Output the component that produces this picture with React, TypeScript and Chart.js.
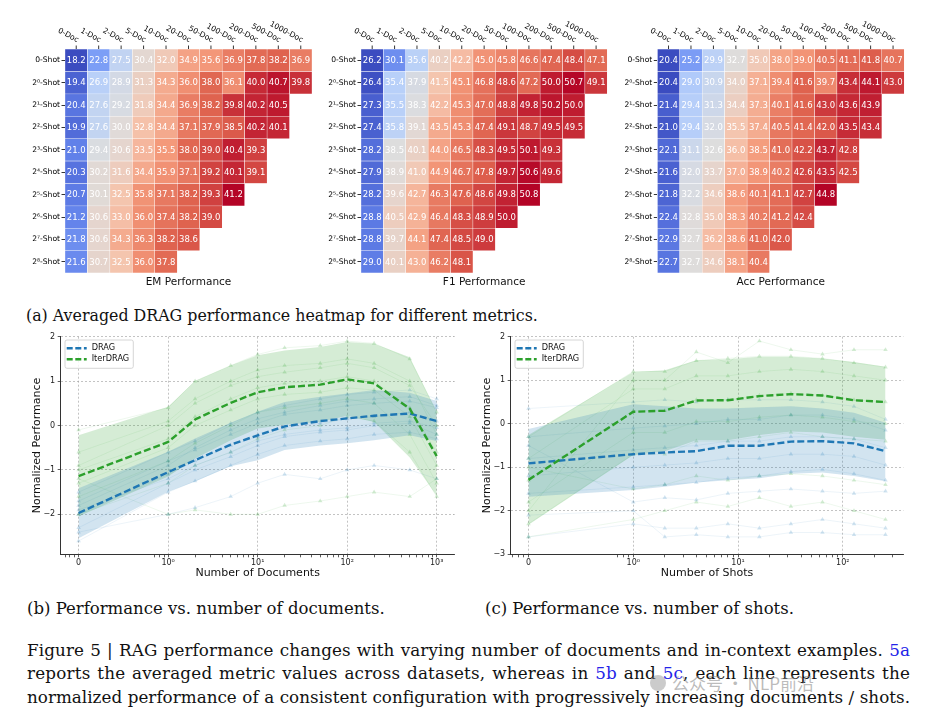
import React, { useEffect, useLayoutEffect, useRef } from "react";
import { Chart, registerables } from "chart.js";
Chart.register(...registerables);

const FONT = "'DejaVu Sans', sans-serif";
const SERIF = "'DejaVu Serif', serif";

// ---------- Heatmap data ----------
const docLabels = ["0-Doc", "1-Doc", "2-Doc", "5-Doc", "10-Doc", "20-Doc", "50-Doc", "100-Doc", "200-Doc", "500-Doc", "1000-Doc"];
const shotLabels = ["0-Shot", "2⁰-Shot", "2¹-Shot", "2²-Shot", "2³-Shot", "2⁴-Shot", "2⁵-Shot", "2⁶-Shot", "2⁷-Shot", "2⁸-Shot"];

const emValues = [
  [18.2, 22.8, 27.5, 30.4, 32.0, 34.9, 35.6, 36.9, 37.8, 38.2, 36.9],
  [19.4, 26.9, 28.9, 31.3, 34.3, 36.0, 38.0, 36.1, 40.0, 40.7, 39.8],
  [20.4, 27.6, 29.2, 31.8, 34.4, 36.9, 38.2, 39.8, 40.2, 40.5],
  [19.9, 27.6, 30.0, 32.8, 34.4, 37.1, 37.9, 38.5, 40.2, 40.1],
  [21.0, 29.4, 30.6, 33.5, 35.5, 38.0, 39.0, 40.4, 39.3],
  [20.3, 30.2, 31.6, 34.4, 35.9, 37.1, 39.2, 40.1, 39.1],
  [20.7, 30.1, 32.5, 35.8, 37.1, 38.2, 39.3, 41.2],
  [21.2, 30.6, 33.0, 36.0, 37.4, 38.2, 39.0],
  [21.8, 30.6, 34.3, 36.3, 38.2, 38.6],
  [21.6, 30.7, 32.5, 36.0, 37.8],
];

const f1Values = [
  [26.2, 30.1, 35.6, 40.2, 42.2, 45.0, 45.8, 46.6, 47.4, 48.4, 47.1],
  [26.4, 35.4, 37.9, 41.5, 45.1, 46.8, 48.6, 47.2, 50.0, 50.7, 49.1],
  [27.3, 35.5, 38.3, 42.2, 45.3, 47.0, 48.8, 49.8, 50.2, 50.0],
  [27.4, 35.8, 39.1, 43.5, 45.3, 47.4, 49.1, 48.7, 49.5, 49.5],
  [28.2, 38.5, 40.1, 44.0, 46.5, 48.3, 49.5, 50.1, 49.3],
  [27.9, 38.9, 41.0, 44.9, 46.7, 47.8, 49.7, 50.6, 49.6],
  [28.2, 39.6, 42.7, 46.3, 47.6, 48.6, 49.8, 50.8],
  [28.8, 40.5, 42.9, 46.4, 48.3, 48.9, 50.0],
  [28.8, 39.7, 44.1, 47.4, 48.5, 49.0],
  [29.0, 40.1, 43.0, 46.2, 48.1],
];

const accValues = [
  [20.4, 25.2, 29.9, 32.7, 35.0, 38.0, 39.0, 40.5, 41.1, 41.8, 40.7],
  [20.4, 29.0, 30.9, 34.0, 37.1, 39.4, 41.6, 39.7, 43.4, 44.1, 43.0],
  [21.4, 29.4, 31.3, 34.4, 37.3, 40.1, 41.6, 43.0, 43.6, 43.9],
  [21.0, 29.4, 32.0, 35.5, 37.4, 40.5, 41.4, 42.0, 43.5, 43.4],
  [22.1, 31.1, 32.6, 36.0, 38.5, 41.0, 42.2, 43.7, 42.8],
  [21.6, 32.0, 33.7, 37.0, 38.9, 40.2, 42.6, 43.5, 42.5],
  [21.8, 32.2, 34.6, 38.6, 40.1, 41.1, 42.7, 44.8],
  [22.4, 32.8, 35.0, 38.3, 40.2, 41.2, 42.4],
  [22.9, 32.7, 36.2, 38.6, 41.0, 42.0],
  [22.7, 32.7, 34.6, 38.1, 40.4],
];

// ---------- Line chart data ----------
const docCounts = [0, 1, 2, 5, 10, 20, 50, 100, 200, 500, 1000];
const shotCounts = [0, 1, 2, 4, 8, 16, 32, 64, 128, 256];

const docDragMean = [-1.97, -1.05, -0.78, -0.43, -0.22, -0.02, 0.1, 0.16, 0.22, 0.27, 0.1];
const docDragUpper = [-1.41, -0.59, -0.29, 0.06, 0.31, 0.53, 0.65, 0.72, 0.8, 0.74, 0.55];
const docDragLower = [-2.54, -1.49, -1.26, -0.92, -0.78, -0.55, -0.45, -0.4, -0.33, -0.22, -0.35];
const docIterMean = [-1.14, -0.37, 0.135, 0.51, 0.75, 0.86, 0.92, 1.04, 0.95, 0.38, -0.69];
const docIterUpper = [-0.22, 0.42, 1.0, 1.35, 1.58, 1.69, 1.77, 1.88, 1.84, 1.54, 0.31];
const docIterLower = [-2.05, -1.15, -0.74, -0.33, -0.07, 0.02, 0.08, 0.22, 0.08, -0.72, -1.58];

const docDragRuns = [
  [-1.5, -0.6, -0.35, 0.05, 0.3, 0.45, 0.6, 0.7, 0.75, 0.8, 0.6],
  [-1.7, -0.8, -0.55, -0.2, 0.05, 0.25, 0.35, 0.45, 0.5, 0.55, 0.4],
  [-2.0, -1.1, -0.8, -0.45, -0.25, -0.05, 0.05, 0.15, 0.2, 0.3, 0.1],
  [-2.3, -1.3, -1.0, -0.7, -0.45, -0.25, -0.15, -0.1, 0.0, 0.05, -0.2],
  [-2.6, -1.5, -1.25, -0.9, -0.65, -0.45, -0.35, -0.3, -0.2, -0.15, -0.3],
  [-1.9, -1.2, -0.9, -0.6, -0.35, -0.2, -0.1, -0.05, 0.05, 0.1, -0.05],
  [-2.4, -2.0, -1.85, -1.6, -1.3, -1.1, -1.2, -1.0, -0.9, -1.0, -1.2],
  [-1.8, -0.9, -0.5, -0.1, 0.15, 0.3, 0.45, 0.55, 0.6, 0.65, 0.45],
];
const docIterRuns = [
  [-0.1, 0.4, 1.0, 1.35, 1.6, 1.75, 1.8, 1.9, 1.85, 1.5, 0.3],
  [-0.6, 0.1, 0.6, 1.0, 1.25, 1.35, 1.4, 1.5, 1.4, 1.0, -0.2],
  [-1.0, -0.3, 0.2, 0.6, 0.85, 0.95, 1.0, 1.1, 1.0, 0.4, -0.6],
  [-1.3, -0.5, 0.0, 0.35, 0.6, 0.7, 0.75, 0.85, 0.8, 0.2, -0.9],
  [-1.6, -0.8, -0.4, 0.0, 0.3, 0.4, 0.5, 0.6, 0.5, -0.2, -1.3],
  [-2.0, -1.3, -0.9, -0.6, -0.3, -0.1, 0.0, 0.2, 0.1, -0.6, -1.6],
  [-0.9, 0.0, 0.5, 0.9, 1.1, 1.2, 1.3, 1.4, 1.3, 0.9, 0.0],
  [-1.2, -2.0, -1.9, -2.0, -2.0, -1.8, -1.7, -1.6, -1.5, -1.6, -1.2],
];

const shotDragMean = [-0.91, -0.7, -0.66, -0.63, -0.505, -0.505, -0.41, -0.4, -0.45, -0.63];
const shotDragUpper = [-0.12, 0.45, 0.4, 0.35, 0.35, 0.38, 0.4, 0.35, 0.25, 0.02];
const shotDragLower = [-1.68, -1.52, -1.45, -1.35, -1.3, -1.25, -1.15, -1.12, -1.2, -1.32];
const shotIterMean = [-1.29, 0.275, 0.3, 0.535, 0.54, 0.635, 0.68, 0.65, 0.54, 0.5];
const shotIterUpper = [-0.26, 1.19, 1.23, 1.46, 1.48, 1.54, 1.54, 1.5, 1.42, 1.31];
const shotIterLower = [-2.32, -0.72, -0.63, -0.38, -0.38, -0.26, -0.18, -0.2, -0.3, -0.37];

const shotDragRuns = [
  [0.35, 0.5, 0.55, 0.5, 0.55, 0.55, 0.55, 0.5, 0.4, 0.1],
  [-0.3, -0.1, -0.05, 0.0, 0.1, 0.1, 0.2, 0.2, 0.1, -0.15],
  [-0.8, -0.6, -0.55, -0.5, -0.4, -0.4, -0.3, -0.3, -0.35, -0.55],
  [-1.2, -1.0, -0.95, -0.9, -0.8, -0.8, -0.7, -0.7, -0.75, -0.95],
  [-1.6, -1.45, -1.4, -1.35, -1.25, -1.2, -1.1, -1.05, -1.15, -1.3],
  [-2.6, -2.3, -2.4, -2.4, -2.3, -2.4, -2.3, -2.2, -2.3, -2.4],
  [-2.1, -2.0, -2.6, -2.55, -2.6, -2.6, -2.5, -2.5, -2.55, -2.55],
  [-0.5, -1.8, -1.7, -1.75, -1.6, -1.55, -1.5, -1.55, -1.6, -1.55],
];
const shotIterRuns = [
  [-0.3, 1.2, 1.2, 1.45, 1.5, 1.55, 1.55, 1.5, 1.4, 1.3],
  [-0.8, 0.8, 0.8, 1.1, 1.1, 1.2, 1.25, 1.2, 1.1, 1.0],
  [-1.3, 0.3, 0.3, 0.55, 0.55, 0.65, 0.7, 0.65, 0.55, 0.5],
  [-1.8, -0.2, -0.2, 0.05, 0.05, 0.15, 0.2, 0.15, 0.05, 0.0],
  [-2.3, -0.7, -0.7, -0.4, -0.4, -0.3, -0.2, -0.3, -0.35, -0.4],
  [-2.0, 1.0, 1.0, 1.65, 1.4, 1.9, 1.7, 1.6, 1.7, 1.7],
  [-1.0, -1.5, -1.4, -1.2, -1.3, -1.2, -1.15, -1.2, -1.3, -1.4],
  [-2.6, -2.2, -2.0, -1.8, -1.9, -1.7, -1.9, -1.8, -2.0, -2.2],
];

const xMajorLabels = ["0", "10⁰", "10¹", "10²", "10³"];
const docYTicks = [-2, -1, 0, 1, 2];
const shotYTicks = [-3, -2, -1, 0, 1, 2];

// ---------- helpers ----------
const CW = [
  [59, 76, 192], [98, 130, 234], [141, 176, 254], [184, 208, 249], [221, 221, 221],
  [245, 196, 173], [244, 154, 123], [222, 96, 77], [180, 4, 38],
];
function coolwarm(t: number) {
  const tt = Math.max(0, Math.min(1, t)) * (CW.length - 1);
  const i = Math.min(CW.length - 2, Math.floor(tt));
  const f = tt - i;
  const c = CW[i].map((v, k) => Math.round(v + (CW[i + 1][k] - v) * f));
  return `rgb(${c[0]},${c[1]},${c[2]})`;
}
const symlog = (v: number) => (v <= 1 ? v : 1 + Math.log10(v));
function minorTicks(maxT: number) {
  const out = [-0.15, -0.1, -0.046, 0.845, 0.903, 0.954];
  for (let k = 0; k < 5; k++) for (let m = 2; m <= 9; m++) {
    const t = 1 + k + Math.log10(m);
    if (t < maxT) out.push(t);
  }
  return out;
}
const minus = (v: number) => (v < 0 ? "\u2212" + Math.abs(v) : String(v));

// ---------- Heatmap ----------
function Heatmap({ values, title, left, axisWidth, padRight }: any) {
  const ref = useRef<HTMLCanvasElement>(null);
  useEffect(() => {
    const flat = values.flat();
    const vmin = Math.min(...flat);
    const vmax = Math.max(...flat);
    const datasets = shotLabels.map((s, r) => ({
      label: s,
      data: docLabels.map((_, c) => (c < values[r].length ? [r, r + 1] : null)),
      backgroundColor: (ctx: any) => {
        const v = values[ctx.datasetIndex]?.[ctx.dataIndex];
        return v == null ? "rgba(0,0,0,0)" : coolwarm((v - vmin) / (vmax - vmin));
      },
      borderColor: "#ffffff",
      borderWidth: 0.5,
      borderSkipped: false,
      barPercentage: 1,
      categoryPercentage: 1,
      grouped: false,
    }));
    const plugin = {
      id: "hmDecor",
      afterDatasetsDraw(chart: any) {
        const { ctx, chartArea: a } = chart;
        ctx.save();
        ctx.font = `8.5px ${FONT}`;
        ctx.fillStyle = "#ffffff";
        ctx.textAlign = "center";
        ctx.textBaseline = "middle";
        values.forEach((row: number[], r: number) => {
          const meta = chart.getDatasetMeta(r);
          row.forEach((v, c) => {
            const el = meta.data[c];
            if (!el) return;
            const p = el.getProps(["x", "y", "base"], true);
            ctx.fillText(v.toFixed(1), p.x, (p.y + p.base) / 2 + 0.5);
          });
        });
        const xs = chart.scales.x;
        ctx.strokeStyle = "#000";
        ctx.fillStyle = "#000";
        ctx.lineWidth = 0.8;
        ctx.font = `7.6px ${FONT}`;
        docLabels.forEach((lab, i) => {
          const px = xs.getPixelForValue(i);
          ctx.beginPath();
          ctx.moveTo(px, a.top);
          ctx.lineTo(px, a.top - 3.5);
          ctx.stroke();
          ctx.save();
          ctx.translate(px, a.top - 5);
          ctx.rotate((28 * Math.PI) / 180);
          ctx.textAlign = "right";
          ctx.textBaseline = "bottom";
          ctx.fillText(lab, 0, 0);
          ctx.restore();
        });
        ctx.font = `10.5px ${FONT}`;
        ctx.textAlign = "center";
        ctx.textBaseline = "middle";
        ctx.fillStyle = "#111";
        ctx.fillText(title, (a.left + a.right) / 2, 282);
        ctx.restore();
      },
    };
    const chart = new Chart(ref.current as HTMLCanvasElement, {
      type: "bar",
      data: { labels: docLabels, datasets: datasets as any },
      options: {
        animation: false,
        responsive: false,
        devicePixelRatio: 1,
        events: [],
        layout: { padding: { left: 0, top: 49, right: padRight, bottom: 27 } },
        plugins: { legend: { display: false }, tooltip: { enabled: false } },
        scales: {
          x: { type: "category", display: false, offset: true },
          y: {
            type: "linear",
            min: 0,
            max: 10,
            reverse: true,
            afterBuildTicks: (s: any) => {
              s.ticks = shotLabels.map((_, i) => ({ value: i + 0.5 }));
            },
            afterFit: (s: any) => {
              s.width = axisWidth;
            },
            ticks: {
              autoSkip: false,
              padding: 1.5,
              color: "#000",
              font: { family: FONT, size: 7.6 },
              callback: (_v: any, i: number) => shotLabels[i],
            },
            grid: { drawOnChartArea: false, drawTicks: true, tickLength: 3.5, tickColor: "#000", tickWidth: 0.8, color: "#000" },
            border: { display: false },
          },
        },
      } as any,
      plugins: [plugin],
    });
    return () => chart.destroy();
  }, []);
  return <canvas ref={ref} width={320} height={300} style={{ position: "absolute", left, top: 0, width: 320, height: 300 }} />;
}

// ---------- Line chart ----------
const BLUE = "#1f77b4";
const GREEN = "#2ca02c";

function LineChart(props: any) {
  const ref = useRef<HTMLCanvasElement>(null);
  useEffect(() => {
    const { counts, xMin, xMax, yMin, yMax, yTicks, dm, du, dl, im, iu, il, dRuns, iRuns, xTitle, padRight } = props;
    const majors = [0, 1, 2, 3, 4].filter((v) => v <= xMax);
    const minors = minorTicks(xMax);
    const pts = (arr: number[]) => arr.map((v, i) => ({ x: symlog(counts[i]), y: v }));
    const run = (arr: number[], rgb: string) => ({
      data: pts(arr),
      borderColor: `rgba(${rgb},0.10)`,
      borderWidth: 0.8,
      pointStyle: "triangle",
      pointRadius: 2.6,
      pointBackgroundColor: `rgba(${rgb},0.2)`,
      pointBorderColor: `rgba(${rgb},0.2)`,
      pointBorderWidth: 0,
      fill: false,
      order: 10,
    });
    const band = (arr: number[], fill: any, bg: string) => ({
      data: pts(arr),
      borderColor: "rgba(0,0,0,0)",
      borderWidth: 0,
      pointRadius: 0,
      fill,
      backgroundColor: bg,
      order: 5,
    });
    const datasets = [
      { label: "DRAG", data: pts(dm), borderColor: BLUE, borderWidth: 2.4, borderDash: [7, 3], pointRadius: 0, fill: false, order: 1 },
      { label: "IterDRAG", data: pts(im), borderColor: GREEN, borderWidth: 2.4, borderDash: [7, 3], pointRadius: 0, fill: false, order: 0 },
      band(du, "+1", "rgba(31,119,180,0.2)"),
      band(dl, false, "rgba(0,0,0,0)"),
      band(iu, "+1", "rgba(44,160,44,0.2)"),
      band(il, false, "rgba(0,0,0,0)"),
      ...dRuns.map((r: number[]) => run(r, "31,119,180")),
      ...iRuns.map((r: number[]) => run(r, "44,160,44")),
    ];
    const plugin = {
      id: "lnDecor",
      afterDraw(chart: any) {
        const { ctx, chartArea: a } = chart;
        ctx.save();
        ctx.fillStyle = "#111";
        ctx.font = `11px ${FONT}`;
        ctx.textAlign = "center";
        ctx.textBaseline = "middle";
        ctx.fillText(xTitle, (a.left + a.right) / 2, 248);
        ctx.translate(16.7, (a.top + a.bottom) / 2);
        ctx.rotate(-Math.PI / 2);
        ctx.fillText("Normalized Performance", 0, 0);
        ctx.restore();
        // legend
        ctx.save();
        const bx = a.left + 4.3, by = a.top + 3.3, bw = 68.3, bh = 28.3;
        ctx.beginPath();
        (ctx as any).roundRect(bx, by, bw, bh, 2);
        ctx.fillStyle = "rgba(255,255,255,0.8)";
        ctx.fill();
        ctx.strokeStyle = "#cccccc";
        ctx.lineWidth = 0.8;
        ctx.stroke();
        const items = [["DRAG", BLUE], ["IterDRAG", GREEN]];
        items.forEach(([lab, col], k) => {
          const yy = by + 8.3 + k * 11;
          ctx.beginPath();
          ctx.setLineDash([6, 2.6]);
          ctx.strokeStyle = col;
          ctx.lineWidth = 2.4;
          ctx.moveTo(bx + 1.7, yy);
          ctx.lineTo(bx + 21.7, yy);
          ctx.stroke();
          ctx.setLineDash([]);
          ctx.fillStyle = "#111";
          ctx.font = `8.2px ${FONT}`;
          ctx.textAlign = "left";
          ctx.textBaseline = "middle";
          ctx.fillText(lab, bx + 26.7, yy);
        });
        ctx.restore();
      },
    };
    const chart = new Chart(ref.current as HTMLCanvasElement, {
      type: "line",
      data: { datasets: datasets as any },
      options: {
        animation: false,
        responsive: false,
        devicePixelRatio: 1,
        events: [],
        layout: { padding: { left: 0, top: 11.7, right: padRight, bottom: 0 } },
        plugins: { legend: { display: false }, tooltip: { enabled: false } },
        elements: { line: { tension: 0 } },
        scales: {
          x: {
            type: "linear",
            min: xMin,
            max: xMax,
            afterBuildTicks: (s: any) => {
              s.ticks = [...majors, ...minors].sort((p, q) => p - q).map((v) => ({ value: v }));
            },
            afterFit: (s: any) => {
              s.height = 35.7;
            },
            ticks: {
              autoSkip: false,
              maxRotation: 0,
              minRotation: 0,
              padding: 1,
              color: "#222",
              font: { family: FONT, size: 8 },
              callback: (v: number) => {
                const k = majors.indexOf(v);
                return k >= 0 ? xMajorLabels[k] : "";
              },
            },
            grid: {
              color: (c: any) => (c.tick && majors.includes(c.tick.value) ? "rgba(160,160,160,0.8)" : "rgba(0,0,0,0)"),
              lineWidth: 0.8,
              drawTicks: true,
              tickLength: 3,
              tickColor: "#333",
              tickWidth: 0.8,
            },
            border: { display: true, color: "#333", width: 1, dash: [2, 2] },
          },
          y: {
            type: "linear",
            min: yMin,
            max: yMax,
            afterBuildTicks: (s: any) => {
              s.ticks = yTicks.map((v: number) => ({ value: v }));
            },
            afterFit: (s: any) => {
              s.width = 40.7;
            },
            ticks: {
              autoSkip: false,
              padding: 2.5,
              color: "#222",
              font: { family: FONT, size: 8 },
              callback: (v: number) => minus(v),
            },
            grid: { color: "rgba(160,160,160,0.8)", lineWidth: 0.8, drawTicks: true, tickLength: 3, tickColor: "#333", tickWidth: 0.8 },
            border: { display: true, color: "#333", width: 1, dash: [2, 2] },
          },
        },
      } as any,
      plugins: [plugin],
    });
    return () => chart.destroy();
  }, []);
  return (
    <canvas
      ref={ref}
      width={450}
      height={265}
      style={{ position: "absolute", left: props.left, top: 325, width: 450, height: 265 }}
    />
  );
}

// ---------- Captions ----------
const LINK = "#2424e8";
const BASE_F = 16.5;
function Captions() {
  const root = useRef<HTMLDivElement>(null);
  useLayoutEffect(() => {
    const all = Array.from(root.current!.querySelectorAll<HTMLElement>("[data-tw]"));
    const setSize = (el: HTMLElement, F: number) => {
      el.style.fontSize = `${F}px`;
      el.style.lineHeight = `${F}px`;
      el.style.top = `${Number(el.dataset.base) - 0.846 * F}px`;
    };
    const width = (el: HTMLElement) => el.getBoundingClientRect().width;
    all.forEach((el) => {
      el.style.wordSpacing = "0px";
      el.style.letterSpacing = "0px";
      setSize(el, BASE_F);
    });
    const byId: Record<string, number> = {};
    all.filter((el) => !el.dataset.group && !el.dataset.same).forEach((el) => {
      const F = (BASE_F * Number(el.dataset.tw)) / width(el);
      setSize(el, F);
      if (el.dataset.id) byId[el.dataset.id] = F;
    });
    all.filter((el) => el.dataset.same).forEach((el) => setSize(el, byId[el.dataset.same as string] || BASE_F));
    const grp = all.filter((el) => el.dataset.group);
    let s = Infinity;
    grp.forEach((el) => {
      s = Math.min(s, Number(el.dataset.tw) / width(el));
    });
    grp.forEach((el) => setSize(el, BASE_F * s * 0.995));
    grp.forEach((el) => {
      const extra = Number(el.dataset.tw) - width(el);
      const txt = el.textContent || "";
      const n = txt.split(" ").length - 1;
      const chars = txt.length;
      // split extra space: half to letters, half to word gaps
      const ls = (extra * 0.5) / chars;
      el.style.letterSpacing = `${ls}px`;
      const rem = Number(el.dataset.tw) - width(el);
      if (n > 0) el.style.wordSpacing = `${rem / n}px`;
    });
  }, []);
  const base: React.CSSProperties = {
    position: "absolute",
    whiteSpace: "pre",
    fontFamily: SERIF,
    fontSize: BASE_F,
    lineHeight: `${BASE_F}px`,
    color: "#111",
    display: "inline-block",
  };
  return (
    <div ref={root}>
      <span data-tw="512" data-base="321" style={{ ...base, left: 26 }}>(a) Averaged DRAG performance heatmap for different metrics.</span>
      <span data-tw="358" data-base="615" data-id="b" style={{ ...base, left: 27 }}>(b) Performance vs. number of documents.</span>
      <span data-tw="315" data-base="615" data-same="b" style={{ ...base, left: 485 }}>(c) Performance vs. number of shots.</span>
      <span data-tw="883" data-base="656" data-group="fig" style={{ ...base, left: 27 }}>
        Figure 5 | RAG performance changes with varying number of documents and in-context examples. <span style={{ color: LINK }}>5a</span>
      </span>
      <span data-tw="883" data-base="679.3" data-group="fig" style={{ ...base, left: 27 }}>
        reports the averaged metric values across datasets, whereas in <span style={{ color: LINK }}>5b</span> and{" "}
        <span style={{ color: LINK }}>5c</span>, each line represents the
      </span>
      <span data-tw="883" data-base="702.7" data-group="fig" style={{ ...base, left: 27 }}>
        normalized performance of a consistent configuration with progressively increasing documents / shots.
      </span>
      <div
        style={{
          position: "absolute",
          left: 650,
          top: 673,
          display: "flex",
          alignItems: "center",
          gap: 6,
          color: "rgba(130,130,130,0.55)",
          fontFamily: "'Noto Sans CJK SC', sans-serif",
          fontSize: 17,
          lineHeight: "20px",
          whiteSpace: "pre",
        }}
      >
        <span style={{ width: 16, height: 16, borderRadius: 8, background: "rgba(140,140,140,0.45)", display: "inline-block" }} />
        <span>公众号 · NLP前沿</span>
      </div>
    </div>
  );
}

export default function App() {
  return (
    <div style={{ position: "fixed", left: 0, top: 0, width: 926, height: 718, background: "#fff", overflow: "hidden" }}>
      <Heatmap values={emValues} title="EM Performance" left={0} axisWidth={65} padRight={8} />
      <Heatmap values={f1Values} title="F1 Performance" left={300} axisWidth={61} padRight={12.7} />
      <Heatmap values={accValues} title="Acc Performance" left={600} axisWidth={57.3} padRight={15.7} />
      <LineChart
        left={20}
        counts={docCounts}
        xMin={-0.2}
        xMax={4.2}
        yMin={-2.9}
        yMax={2}
        yTicks={docYTicks}
        dm={docDragMean}
        du={docDragUpper}
        dl={docDragLower}
        im={docIterMean}
        iu={docIterUpper}
        il={docIterLower}
        dRuns={docDragRuns}
        iRuns={docIterRuns}
        xTitle="Number of Documents"
        padRight={15.4}
      />
      <LineChart
        left={470}
        counts={shotCounts}
        xMin={-0.17}
        xMax={3.578}
        yMin={-3}
        yMax={2}
        yTicks={shotYTicks}
        dm={shotDragMean}
        du={shotDragUpper}
        dl={shotDragLower}
        im={shotIterMean}
        iu={shotIterUpper}
        il={shotIterLower}
        dRuns={shotDragRuns}
        iRuns={shotIterRuns}
        xTitle="Number of Shots"
        padRight={16.7}
      />
      <Captions />
    </div>
  );
}
